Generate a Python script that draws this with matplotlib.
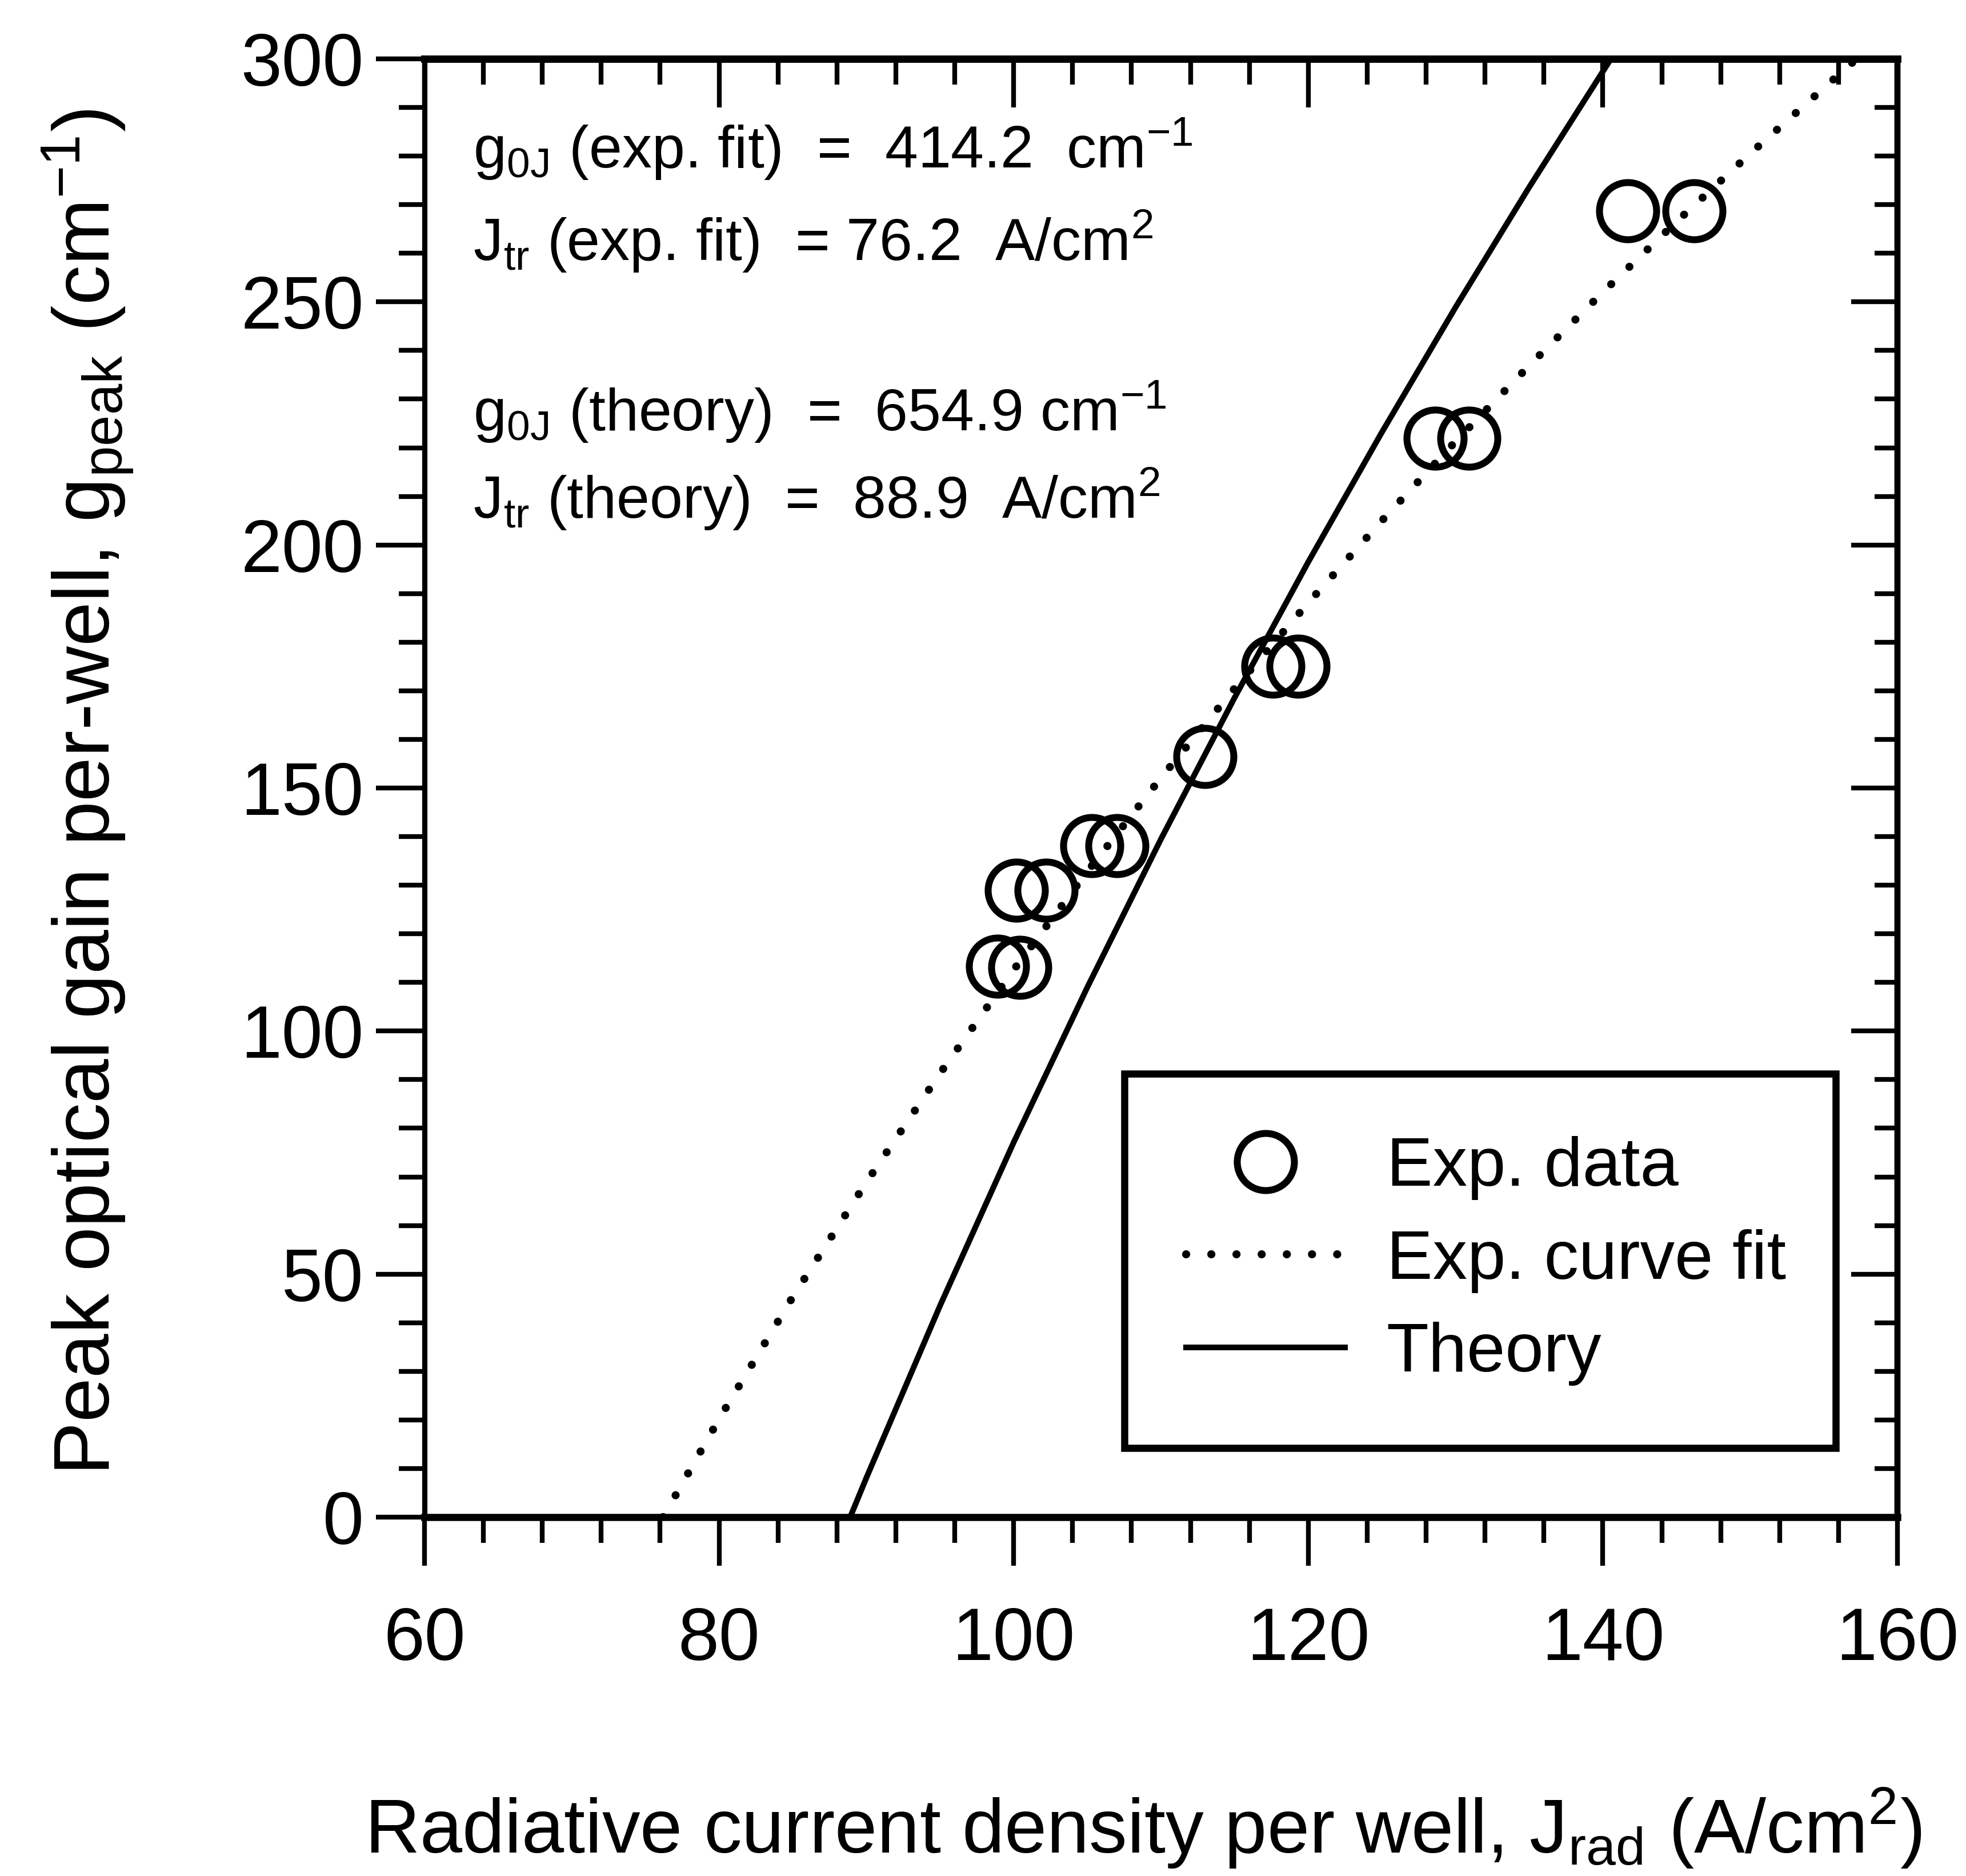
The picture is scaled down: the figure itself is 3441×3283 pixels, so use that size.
import matplotlib
matplotlib.use('Agg')
import matplotlib.pyplot as plt
from matplotlib.ticker import MultipleLocator, NullFormatter
from matplotlib.lines import Line2D

plt.rcParams['font.family'] = ['Liberation Sans', 'DejaVu Sans']
plt.rcParams['mathtext.default'] = 'regular'

# ---- data ----
J_data = [98.9, 100.4, 100.2, 102.2, 105.3, 107.0, 113.0, 117.6, 119.3, 128.6, 130.9, 141.7, 146.2]
g_data = [113.3, 113.1, 128.9, 128.9, 138.1, 138.1, 156.5, 175.0, 175.0, 221.9, 221.9, 268.7, 268.7]

J_fit = [76.2, 80, 85, 90, 95, 100, 105, 110, 115, 120, 125, 130, 135, 140, 145, 150, 157]
g_fit = [0, 20.2, 45.3, 68.9, 91.3, 112.6, 132.8, 152.1, 170.5, 188.1, 205.0, 221.3, 236.9, 252.0,
         266.5, 280.5, 299.4]

J_theory = [88.9, 90, 95, 100, 105, 110, 115, 120, 125, 130, 135, 140, 140.4]
g_theory = [0, 8.1, 43.5, 77.1, 109.0, 139.5, 168.6, 196.5, 223.2, 248.9, 273.6, 297.4, 299.3]

annot_lines = [
    r"g$_{0J}$ (exp. fit)  =  414.2  cm$^{-1}$",
    r"J$_{tr}$ (exp. fit)  = 76.2  A/cm$^{2}$",
    r"g$_{0J}$ (theory)  =  654.9 cm$^{-1}$",
    r"J$_{tr}$ (theory)  =  88.9  A/cm$^{2}$",
]
annot_y = [277.5, 258.5, 223.5, 205.5]

legend_labels = ["Exp. data", "Exp. curve fit", "Theory"]
xlabel = r"Radiative current density per well, J$_{rad}$ (A/cm$^{2}$)"
ylabel = r"Peak optical gain per-well, g$_{peak}$ (cm$^{-1}$)"

# ---- figure ----
W, H = 3441, 3283
fig = plt.figure(figsize=(W / 300, H / 300), dpi=300)
ax = fig.add_axes([743 / W, 1 - 2655 / H, 2578 / W, 2552 / H])

ax.plot(J_fit, g_fit, color='black', lw=3.4, linestyle=(0, (0.01, 3.1)),
        dash_capstyle='round', solid_capstyle='round', zorder=3)
ax.plot(J_theory, g_theory, color='black', lw=2.4, zorder=3)
ax.plot(J_data, g_data, linestyle='none', marker='o', markersize=24,
        markerfacecolor='none', markeredgecolor='black', markeredgewidth=2.9, zorder=4)

ax.set_xlim(60, 160)
ax.set_ylim(0, 300)

ax.xaxis.set_major_locator(MultipleLocator(20))
ax.xaxis.set_minor_locator(MultipleLocator(4))
ax.yaxis.set_major_locator(MultipleLocator(50))
ax.yaxis.set_minor_locator(MultipleLocator(10))

ax.tick_params(axis='x', which='major', direction='out', length=20.5, width=2.0,
               labelsize=31, pad=17)
ax.tick_params(axis='y', which='major', direction='out', length=20.5, width=2.0,
               labelsize=31, pad=5)
ax.tick_params(which='minor', direction='out', length=10.8, width=2.0)

for side, lw in (('bottom', 3.0), ('top', 3.0), ('left', 2.2), ('right', 2.5)):
    ax.spines[side].set_linewidth(lw)

secx = ax.secondary_xaxis('top')
secx.xaxis.set_major_locator(MultipleLocator(20))
secx.xaxis.set_minor_locator(MultipleLocator(4))
secx.xaxis.set_major_formatter(NullFormatter())
secx.tick_params(which='major', direction='in', length=20.5, width=2.0)
secx.tick_params(which='minor', direction='in', length=10.8, width=2.0)
secx.spines['top'].set_linewidth(3.0)

secy = ax.secondary_yaxis('right')
secy.yaxis.set_major_locator(MultipleLocator(50))
secy.yaxis.set_minor_locator(MultipleLocator(10))
secy.yaxis.set_major_formatter(NullFormatter())
secy.tick_params(which='major', direction='in', length=19.5, width=2.0)
secy.tick_params(which='minor', direction='in', length=9.5, width=2.0)
secy.spines['right'].set_linewidth(2.5)

ax.set_xlabel(xlabel, fontsize=32)
ax.xaxis.label.set_va('baseline')
ax.xaxis.set_label_coords(0.488, -0.2304)
ax.set_ylabel(ylabel, fontsize=33.5)
ax.yaxis.label.set_va('center')
ax.yaxis.set_label_coords(-0.2285, 0.497)

for txt, yv in zip(annot_lines, annot_y):
    ax.text(63.3, yv, txt, fontsize=25, ha='left', va='baseline')

handles = [
    Line2D([], [], linestyle='none', marker='o', markersize=24, markerfacecolor='none',
           markeredgecolor='black', markeredgewidth=2.9),
    Line2D([], [], color='black', lw=3.4, linestyle=(0, (0.01, 3.1)), dash_capstyle='round'),
    Line2D([], [], color='black', lw=2.4),
]
leg = ax.legend(handles, legend_labels, loc='upper left',
                bbox_to_anchor=(0.475, 0.304, 0.483, 0.0), mode='expand',
                fontsize=29, frameon=True, fancybox=False, framealpha=1,
                edgecolor='black', handlelength=2.3, handletextpad=0.6,
                borderpad=0.9, labelspacing=0.42, borderaxespad=0)
leg.get_frame().set_linewidth(3.0)

fig.savefig('out.png', dpi=300, facecolor='white')
